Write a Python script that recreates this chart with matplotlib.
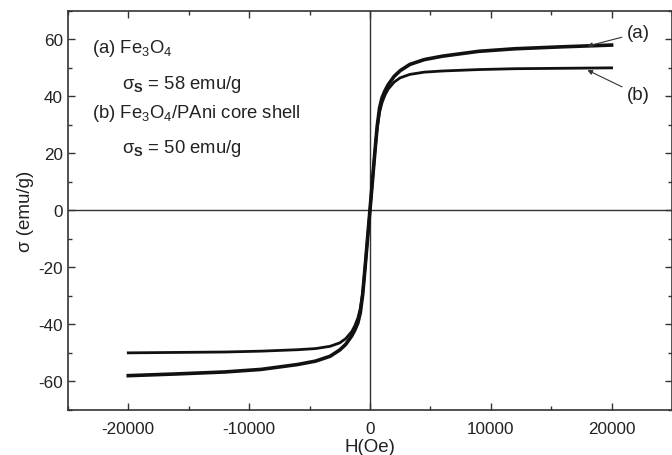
import matplotlib
matplotlib.use("Agg")
import matplotlib.pyplot as plt
from matplotlib.ticker import MultipleLocator
import numpy as np

plt.rcParams['font.family'] = ['Liberation Sans', 'DejaVu Sans']
plt.rcParams['mathtext.fontset'] = 'custom'
plt.rcParams['mathtext.rm'] = 'Liberation Sans'
plt.rcParams['mathtext.bf'] = 'Liberation Sans:bold'

# Read-off points (positive branch); curves are point-symmetric about origin
H_pos = [0, 200, 400, 600, 800, 1000, 1250, 1500, 2000, 2500, 3300, 4500, 6000, 9000, 12000, 16000, 20000]
sigma_a_pos = [0, 10, 20, 29.5, 36, 39.5, 42, 44, 47, 49, 51.2, 52.9, 54.1, 55.8, 56.7, 57.4, 58]
sigma_b_pos = [0, 10, 20, 29, 34.5, 37.8, 40.5, 42.5, 45, 46.5, 47.7, 48.5, 48.9, 49.4, 49.7, 49.85, 50]

H = [-h for h in H_pos[::-1]] + H_pos[1:]
sigma_a = [-s for s in sigma_a_pos[::-1]] + sigma_a_pos[1:]
sigma_b = [-s for s in sigma_b_pos[::-1]] + sigma_b_pos[1:]

xticks = [-20000, -10000, 0, 10000, 20000]
yticks = [-60, -40, -20, 0, 20, 40, 60]

fig = plt.figure(figsize=(6.72, 4.56), dpi=100)
ax = fig.add_axes([0.101, 0.099, 0.899, 0.875])

ax.axhline(0, color='#333333', lw=1.0, zorder=1)
ax.axvline(0, color='#333333', lw=1.0, zorder=1)
ax.plot(H, sigma_a, color='#111111', lw=2.6, zorder=3, solid_joinstyle='round')
ax.plot(H, sigma_b, color='#111111', lw=2.0, zorder=3, solid_joinstyle='round')

ax.set_xlim(-25000, 25000)
ax.set_ylim(-70, 70)
ax.set_xticks(xticks)
ax.set_xticklabels([str(t) for t in xticks])
ax.set_yticks(yticks)
ax.set_yticklabels([str(t) for t in yticks])
ax.xaxis.set_minor_locator(MultipleLocator(5000))
ax.yaxis.set_minor_locator(MultipleLocator(10))
ax.tick_params(which='both', direction='in', top=True, right=True, colors='#333333',
               labelcolor='#222222', labelsize=12.3, width=1.0)
ax.tick_params(which='major', length=5)
ax.tick_params(which='minor', length=3)
ax.tick_params(axis='x', which='major', pad=8)
for sp in ax.spines.values():
    sp.set_color('#333333')
    sp.set_linewidth(1.2)

ax.set_xlabel('H(Oe)', fontsize=13.5, color='#222222', labelpad=1.5)
ax.set_ylabel('σ (emu/g)', fontsize=13.5, color='#222222', labelpad=3)

tkw = dict(fontsize=13.3, color='#222222', transform=ax.transData, va='center')
ax.text(-23000, 57, '(a) Fe$_3$O$_4$', **tkw)
ax.text(-20500, 44.5, 'σ$_{\\mathbf{S}}$ = 58 emu/g', **tkw)
ax.text(-23000, 34.3, '(b) Fe$_3$O$_4$/PAni core shell', **tkw)
ax.text(-20500, 22, 'σ$_{\\mathbf{S}}$ = 50 emu/g', **tkw)

ax.annotate('(a)', xy=(18000, 57.6), xytext=(21300, 62.3), fontsize=13.5, color='#222222',
            va='center', arrowprops=dict(arrowstyle='-|>', color='#333333', lw=0.8,
                                         mutation_scale=7, shrinkA=2, shrinkB=0))
ax.annotate('(b)', xy=(18000, 49.2), xytext=(21300, 40.5), fontsize=13.5, color='#222222',
            va='center', arrowprops=dict(arrowstyle='-|>', color='#333333', lw=0.8,
                                         mutation_scale=7, shrinkA=2, shrinkB=0))

fig.savefig('out.png', dpi=100)
